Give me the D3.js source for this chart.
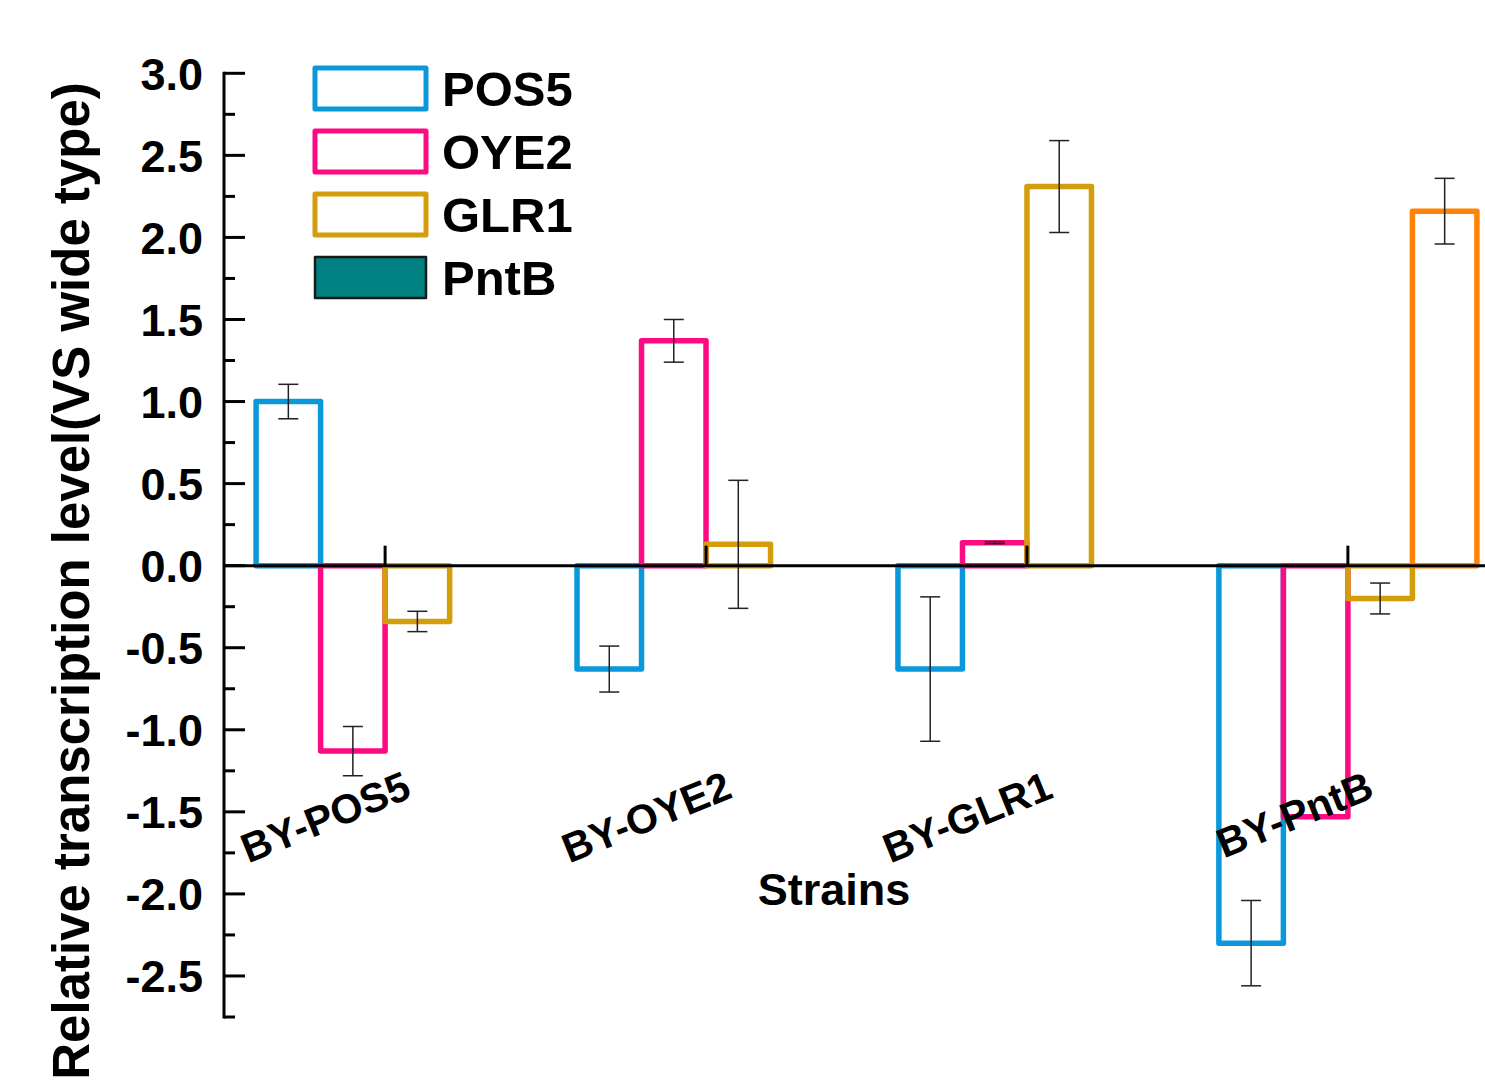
<!DOCTYPE html>
<html>
<head>
<meta charset="utf-8">
<script src="https://cdn.jsdelivr.net/npm/d3@7"></script>
<style>
  body { margin: 0; background: #fff; }
  svg { display: block; font-family: Arial, "Liberation Sans", sans-serif; }
</style>
</head>
<body>
<div id="chart"></div>
<script>
// data
const strains = ["BY-POS5", "BY-OYE2", "BY-GLR1", "BY-PntB"];
const genes = ["POS5", "OYE2", "GLR1", "PntB"];
const pos5 = [1.0, -0.63, -0.63, -2.30];
const pos5Err = [0.105, 0.14, 0.44, 0.26];
const oye2 = [-1.13, 1.37, 0.14, -1.53];
const oye2Err = [0.15, 0.13, 0.006, 0];
const glr1 = [-0.34, 0.13, 2.31, -0.20];
const glr1Err = [0.062, 0.39, 0.28, 0.094];
const pntb = [null, null, null, 2.16];
const pntbErr = [null, null, null, 0.2];
const yTicks = [-2.5, -2.0, -1.5, -1.0, -0.5, 0.0, 0.5, 1.0, 1.5, 2.0, 2.5, 3.0];

const barColors = ["#0a98db", "#fe0a83", "#d49d0b", "#ff8307"];
const legendFill = ["none", "none", "none", "#008080"];
const legendStroke = ["#0a98db", "#fe0a83", "#d49d0b", "#1a1a1a"];

const W = 1485, H = 1080;
const axisX = 224;

const svg = d3.select("#chart").append("svg")
  .attr("width", W)
  .attr("height", H);

const y = d3.scaleLinear().domain([-2.75, 3.0]).range([1017, 73.3]);
const x0 = d3.scaleBand().domain(strains).range([axisX, 1509]).paddingInner(0.196).paddingOuter(0.1);
const x1 = d3.scaleBand().domain(genes).range([0, x0.bandwidth()]);

const series = [
  { gene: "POS5", vals: pos5, errs: pos5Err },
  { gene: "OYE2", vals: oye2, errs: oye2Err },
  { gene: "GLR1", vals: glr1, errs: glr1Err },
  { gene: "PntB", vals: pntb, errs: pntbErr }
];

const bars = [];
series.forEach((s, gi) => {
  s.vals.forEach((v, i) => {
    if (v == null) return;
    bars.push({ strain: strains[i], gene: s.gene, gi, v, e: s.errs[i] });
  });
});

// bars
svg.append("g").selectAll("rect")
  .data(bars)
  .join("rect")
  .attr("x", d => x0(d.strain) + x1(d.gene))
  .attr("y", d => y(Math.max(0, d.v)))
  .attr("width", x1.bandwidth())
  .attr("height", d => Math.abs(y(d.v) - y(0)))
  .attr("fill", "none")
  .attr("stroke", d => barColors[d.gi])
  .attr("stroke-width", 5.5)
  .attr("stroke-linejoin", "round");

// error bars
const errG = svg.append("g").attr("stroke", "#222").attr("stroke-width", 1.5);
bars.filter(d => d.e > 0).forEach(d => {
  const cx = x0(d.strain) + x1(d.gene) + x1.bandwidth() / 2;
  const y1 = y(d.v + d.e), y2 = y(d.v - d.e);
  errG.append("line").attr("x1", cx).attr("x2", cx).attr("y1", y1).attr("y2", y2);
  errG.append("line").attr("x1", cx - 10).attr("x2", cx + 10).attr("y1", y1).attr("y2", y1);
  errG.append("line").attr("x1", cx - 10).attr("x2", cx + 10).attr("y1", y2).attr("y2", y2);
});

// zero line with ticks at strain centres
svg.append("line")
  .attr("x1", axisX).attr("x2", W)
  .attr("y1", y(0)).attr("y2", y(0))
  .attr("stroke", "#000").attr("stroke-width", 3);

svg.append("g").selectAll("line")
  .data(strains)
  .join("line")
  .attr("x1", d => x0(d) + x0.bandwidth() / 2)
  .attr("x2", d => x0(d) + x0.bandwidth() / 2)
  .attr("y1", y(0))
  .attr("y2", y(0) - 20)
  .attr("stroke", "#000").attr("stroke-width", 3);

// strain labels
svg.append("g").selectAll("text")
  .data(strains)
  .join("text")
  .attr("transform", d => `translate(${x0(d) + x0.bandwidth() / 2 + 28},797) rotate(-22)`)
  .attr("text-anchor", "end")
  .style("font-size", "41px")
  .style("font-weight", "bold")
  .text(d => d);

// y axis
const yAxis = svg.append("g").attr("transform", `translate(${axisX},0)`);
yAxis.append("line")
  .attr("x1", 0).attr("x2", 0)
  .attr("y1", y(3.0) - 1.5).attr("y2", y(-2.75) + 1.5)
  .attr("stroke", "#000").attr("stroke-width", 3);
yAxis.selectAll("line.minor")
  .data(d3.range(-2.75, 3.0, 0.5))
  .join("line")
  .attr("class", "minor")
  .attr("x1", 0).attr("x2", 11)
  .attr("y1", d => y(d)).attr("y2", d => y(d))
  .attr("stroke", "#000").attr("stroke-width", 3);
yAxis.selectAll("line.major")
  .data(yTicks)
  .join("line")
  .attr("class", "major")
  .attr("x1", 0).attr("x2", 21)
  .attr("y1", d => y(d)).attr("y2", d => y(d))
  .attr("stroke", "#000").attr("stroke-width", 3);
yAxis.selectAll("text")
  .data(yTicks)
  .join("text")
  .attr("x", -21)
  .attr("y", d => y(d))
  .attr("dy", "0.36em")
  .attr("text-anchor", "end")
  .style("font-size", "45px")
  .style("font-weight", "bold")
  .text(d => d.toFixed(1));

// axis titles
svg.append("text")
  .attr("transform", `translate(89,581) rotate(-90)`)
  .attr("text-anchor", "middle")
  .style("font-size", "51px")
  .style("font-weight", "bold")
  .text("Relative transcription level(VS wide type)");

svg.append("text")
  .attr("x", 834)
  .attr("y", 905)
  .attr("text-anchor", "middle")
  .style("font-size", "45px")
  .style("font-weight", "bold")
  .text("Strains");

// legend
const legend = svg.append("g");
genes.forEach((g, i) => {
  const top = 66 + i * 63;
  legend.append("rect")
    .attr("x", 315).attr("y", top + 2)
    .attr("width", 111).attr("height", 41)
    .attr("fill", legendFill[i])
    .attr("stroke", legendStroke[i])
    .attr("stroke-width", i === 3 ? 2.5 : 5)
    .attr("stroke-linejoin", "round");
  legend.append("text")
    .attr("x", 442).attr("y", top + 40)
    .style("font-size", "49px")
    .style("font-weight", "bold")
    .text(g);
});
</script>
</body>
</html>
